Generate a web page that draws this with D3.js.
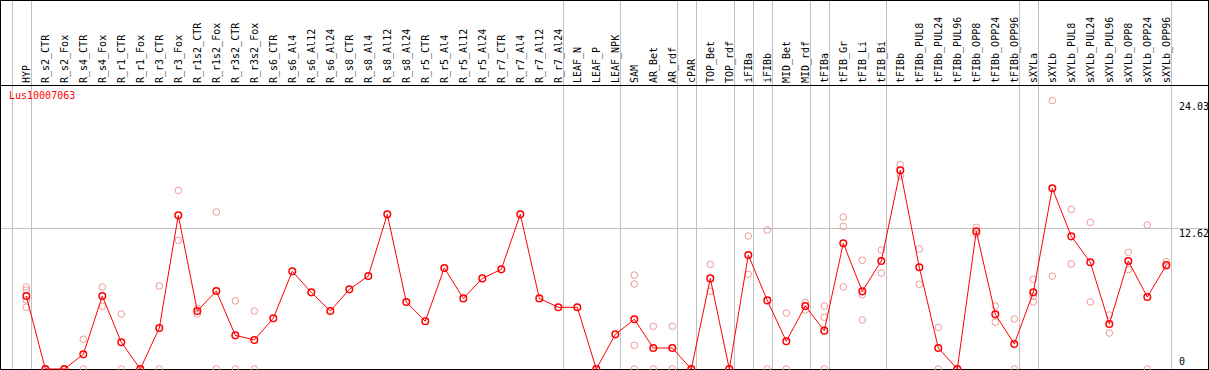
<!DOCTYPE html>
<html>
<head>
<meta charset="utf-8">
<script src="https://cdn.jsdelivr.net/npm/d3@7"></script>
<style>
  body { margin: 0; background: #fff; }
  svg { display: block; }
  text { font-family: "DejaVu Sans Mono", "Liberation Mono", monospace; font-size: 10px; }
</style>
</head>
<body>
<div id="chart"></div>
<script>

// data
const geneName = 'Lus10007063';

const samples = ['HYP', 'R_s2_CTR', 'R_s2_Fox', 'R_s4_CTR', 'R_s4_Fox', 'R_r1_CTR', 'R_r1_Fox',
    'R_r3_CTR', 'R_r3_Fox', 'R_r1s2_CTR', 'R_r1s2_Fox', 'R_r3s2_CTR', 'R_r3s2_Fox',
    'R_s6_CTR', 'R_s6_Al4', 'R_s6_Al12', 'R_s6_Al24', 'R_s8_CTR', 'R_s8_Al4', 'R_s8_Al12', 'R_s8_Al24',
    'R_r5_CTR', 'R_r5_Al4', 'R_r5_Al12', 'R_r5_Al24', 'R_r7_CTR', 'R_r7_Al4', 'R_r7_Al12', 'R_r7_Al24',
    'LEAF_N', 'LEAF_P', 'LEAF_NPK', 'SAM', 'AR_Bet', 'AR_rdf', 'cPAR', 'TOP_Bet', 'TOP_rdf',
    'iFIBa', 'iFIBb', 'MID_Bet', 'MID_rdf', 'tFIBa', 'tFIB_Gr', 'tFIB_Li', 'tFIB_Bi', 'tFIBb',
    'tFIBb_PUL8', 'tFIBb_PUL24', 'tFIBb_PUL96', 'tFIBb_OPP8', 'tFIBb_OPP24', 'tFIBb_OPP96',
    'sXYLa', 'sXYLb', 'sXYLb_PUL8', 'sXYLb_PUL24', 'sXYLb_PUL96', 'sXYLb_OPP8', 'sXYLb_OPP24', 'sXYLb_OPP96'];

// mean expression per sample
const means = [6.53, 0, 0, 1.31, 6.53, 2.39, 0, 3.67, 13.75, 5.19, 6.98, 3.01, 2.60,
    4.54, 8.74, 6.86, 5.19, 7.13, 8.32, 13.84, 6.00,
    4.27, 9.04, 6.32, 8.11, 8.92, 13.84, 6.32, 5.52,
    5.52, 0, 3.10, 4.45, 1.88, 1.88, 0, 8.11, 0,
    10.20, 6.14, 2.48, 5.64, 3.43, 11.25, 6.95, 9.67, 17.78,
    9.10, 1.88, 0, 12.32, 4.89, 2.24,
    6.86, 16.17, 11.87, 9.55, 4.03, 9.67, 6.44, 9.31];

// single replicates per sample
const replicates = [[7.34, 7.07, 6.18, 5.52], [0, 0], [0, 0], [2.66, 0], [7.34, 5.61], [4.92, 0], [0, 0],
    [7.43, 0], [15.99, 11.52], [5.43, 4.92], [14.05, 0], [6.09, 0], [5.19, 0],
    [], [], [], [], [], [], [], [],
    [], [], [], [], [], [], [], [],
    [], [0, 0], [], [8.41, 7.61, 2.12, 0], [3.82, 0], [3.82, 0], [0, 0], [9.37, 6.95], [0, 0],
    [11.90, 8.47], [12.44, 0], [5.01, 0], [5.97, 5.28], [5.64, 4.63, 0], [13.60, 12.77, 7.34],
    [9.73, 6.65, 4.39], [10.65, 8.59], [18.29, 17.27],
    [10.74, 7.58], [3.73, 0], [0, 0], [12.68, 12.11], [5.64, 4.18], [4.47, 0],
    [8.03, 6.53, 6.00], [24.03, 8.31], [14.29, 9.40], [13.13, 6.00], [4.83, 3.22], [10.44, 8.89],
    [12.89, 0], [9.60, 9.16]];

// last sample of each group (a gray separator follows it)
const groupEnds = ['HYP', 'R_r7_Al24', 'LEAF_NPK', 'AR_rdf', 'cPAR', 'TOP_rdf', 'iFIBa', 'iFIBb',
    'MID_rdf', 'tFIBa', 'tFIB_Bi', 'tFIBb_OPP96', 'sXYLa', 'sXYLb_OPP96'];

const yTicks = [0, 12.62, 24.03];

// layout
const width = 1209, height = 370;
const headerBottom = 85;
const plotBottom = 369;

const svg = d3.select('#chart').append('svg')
    .attr('width', width)
    .attr('height', height);

const xScale = d3.scalePoint()
    .domain(samples)
    .range([26.3, 26.3 + 19 * (samples.length - 1)]);

const yScale = d3.scaleLinear()
    .domain([0, d3.max(yTicks)])
    .range([plotBottom, 100.5]);

const crisp = v => Math.round(v) + 0.5;

// group separators
const sepX = [xScale(samples[0]) - xScale.step() + 4.4].concat(groupEnds.map(d => xScale(d) + 4.4));
svg.append('g')
    .selectAll('line')
    .data(sepX)
    .join('line')
    .attr('x1', d => crisp(d)).attr('x2', d => crisp(d))
    .attr('y1', 0).attr('y2', plotBottom)
    .attr('stroke', '#c0c0c0')
    .attr('shape-rendering', 'crispEdges');

// horizontal grid (middle tick only)
svg.append('g')
    .selectAll('line')
    .data(yTicks.filter(d => d > 0 && d < d3.max(yTicks)))
    .join('line')
    .attr('x1', 1).attr('x2', width - 1)
    .attr('y1', d => crisp(yScale(d))).attr('y2', d => crisp(yScale(d)))
    .attr('stroke', '#c0c0c0')
    .attr('shape-rendering', 'crispEdges');

// frame
svg.append('rect')
    .attr('x', 0.5).attr('y', 0.5)
    .attr('width', width - 1.5).attr('height', plotBottom)
    .attr('fill', 'none')
    .attr('stroke', '#000')
    .attr('shape-rendering', 'crispEdges');

svg.append('line')
    .attr('x1', 0).attr('x2', width)
    .attr('y1', headerBottom + 0.5).attr('y2', headerBottom + 0.5)
    .attr('stroke', '#000')
    .attr('shape-rendering', 'crispEdges');

// sample names
svg.append('g')
    .selectAll('text')
    .data(samples)
    .join('text')
    .attr('transform', d => 'translate(' + (xScale(d) + 4) + ',' + (headerBottom - 2) + ') rotate(-90)')
    .attr('fill', '#000')
    .text(d => d);

// y labels on the right
svg.append('g')
    .selectAll('text')
    .data(yTicks)
    .join('text')
    .attr('x', 1179)
    .attr('y', d => d === 0 ? yScale(d) - 4 : yScale(d) + 9)
    .attr('fill', '#000')
    .text(d => d);

// gene name
svg.append('text')
    .attr('x', 9)
    .attr('y', 99)
    .attr('fill', '#ff0000')
    .text(geneName);

// replicate points
const repPoints = [];
samples.forEach((s, i) => replicates[i].forEach(v => repPoints.push({ s, v })));

svg.append('g')
    .selectAll('circle')
    .data(repPoints)
    .join('circle')
    .attr('cx', d => xScale(d.s))
    .attr('cy', d => yScale(d.v))
    .attr('r', 3.3)
    .attr('fill', 'none')
    .attr('stroke', '#f09898')
    .attr('stroke-width', 1);

// mean line
const series = samples.map((s, i) => ({ s, v: means[i] }));

svg.append('path')
    .datum(series)
    .attr('fill', 'none')
    .attr('stroke', '#ff0000')
    .attr('stroke-width', 1)
    .attr('d', d3.line().x(d => xScale(d.s)).y(d => yScale(d.v)));

svg.append('g')
    .selectAll('circle')
    .data(series)
    .join('circle')
    .attr('cx', d => xScale(d.s))
    .attr('cy', d => yScale(d.v))
    .attr('r', 3.3)
    .attr('fill', 'none')
    .attr('stroke', '#ff0000')
    .attr('stroke-width', 1.5);

</script>
</body>
</html>
